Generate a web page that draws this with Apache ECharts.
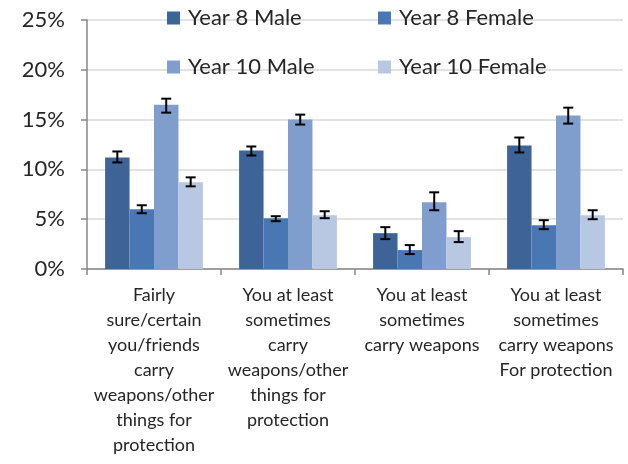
<!DOCTYPE html>
<html><head><meta charset="utf-8">
<script src="https://cdn.jsdelivr.net/npm/echarts@6/dist/echarts.min.js"></script>
<style>html,body{margin:0;padding:0;background:#fff}#c{width:628px;height:464px}</style>
</head><body><div id="c"></div>
<script>
const categories = [
  'Fairly\nsure/certain\nyou/friends\ncarry\nweapons/other\nthings for\nprotection',
  'You at least\nsometimes\ncarry\nweapons/other\nthings for\nprotection',
  'You at least\nsometimes\ncarry weapons',
  'You at least\nsometimes\ncarry weapons\nFor protection'
];
const seriesNames = ['Year 8 Male', 'Year 8 Female', 'Year 10 Male', 'Year 10 Female'];
const y8Male = [11.2, 11.9, 3.6, 12.4];
const y8Female = [6.0, 5.1, 1.9, 4.4];
const y10Male = [16.5, 15.0, 6.7, 15.4];
const y10Female = [8.7, 5.4, 3.2, 5.4];
const y8MaleErr = [[10.7, 11.8], [11.4, 12.3], [3.0, 4.2], [11.7, 13.2]];
const y8FemaleErr = [[5.6, 6.4], [4.8, 5.3], [1.5, 2.4], [4.0, 4.9]];
const y10MaleErr = [[15.7, 17.1], [14.5, 15.5], [5.9, 7.7], [14.6, 16.2]];
const y10FemaleErr = [[8.3, 9.2], [5.1, 5.8], [2.7, 3.8], [5.0, 5.9]];
const yTicks = [0, 5, 10, 15, 20, 25];

const colors = ['#3E6497', '#4877B3', '#7F9ECD', '#B8C8E2'];
const values = [y8Male, y8Female, y10Male, y10Female];
const errs = [y8MaleErr, y8FemaleErr, y10MaleErr, y10FemaleErr];
const CAT_GAP = 0.27;
const FONT = 'Lato, "Open Sans", sans-serif';

const errData = [];
errs.forEach((arr, s) => arr.forEach((e, i) => errData.push([i, s, e[0], e[1]])));

const series = values.map((v, s) => ({
  name: seriesNames[s], type: 'bar', data: v,
  barGap: '0%', barCategoryGap: (CAT_GAP * 100) + '%',
  itemStyle: { color: colors[s] }, silent: true
}));
series.push({
  type: 'custom', name: 'err', silent: true, z: 10,
  data: errData,
  encode: { x: 0, y: [2, 3] },
  renderItem: function (params, api) {
    const cat = api.value(0), s = api.value(1);
    const lo = api.coord([cat, api.value(2)]);
    const hi = api.coord([cat, api.value(3)]);
    const bw = api.size([1, 0])[0] * (1 - CAT_GAP) / 4;
    const x = lo[0] + (s - 1.5) * bw;
    const cw = 5;
    const st = { stroke: '#000', lineWidth: 2 };
    return { type: 'group', children: [
      { type: 'line', shape: { x1: x, y1: lo[1], x2: x, y2: hi[1] }, style: st },
      { type: 'line', shape: { x1: x - cw, y1: lo[1], x2: x + cw, y2: lo[1] }, style: st },
      { type: 'line', shape: { x1: x - cw, y1: hi[1], x2: x + cw, y2: hi[1] }, style: st }
    ]};
  }
});

const legendPos = [[167, 7], [378, 7], [167, 56], [378, 56]];
const legends = seriesNames.map((n, i) => ({
  data: [n], left: legendPos[i][0], top: legendPos[i][1],
  icon: 'rect', itemWidth: 13, itemHeight: 13, itemGap: 0,
  textStyle: { fontSize: 22, color: '#262626', fontFamily: FONT, padding: [0, 0, 0, 3] },
  selectedMode: false, padding: 0
}));

const chart = echarts.init(document.getElementById('c'), null, { renderer: 'canvas' });
chart.setOption({
  animation: false,
  backgroundColor: '#fff',
  grid: { left: 87, right: 5, top: 20, bottom: 195 },
  legend: legends,
  xAxis: {
    type: 'category', data: categories,
    axisLine: { lineStyle: { color: '#868686', width: 1.5 } },
    axisTick: { show: true, length: 6, lineStyle: { color: '#868686', width: 1.5 } },
    axisLabel: { interval: 0, fontSize: 18, lineHeight: 25, color: '#262626', fontFamily: FONT, margin: 14 }
  },
  yAxis: {
    type: 'value', min: 0, max: 25, interval: 5,
    axisLine: { show: true, lineStyle: { color: '#868686', width: 1.5 } },
    axisTick: { show: true, length: 6, lineStyle: { color: '#868686', width: 1.5 } },
    splitLine: { lineStyle: { color: '#D9D9D9', width: 1.5 } },
    axisLabel: {
      fontSize: 22, color: '#262626', fontFamily: FONT, margin: 22,
      formatter: v => (yTicks.indexOf(v) >= 0 ? v + '%' : '')
    }
  },
  series: series
});
</script></body></html>
